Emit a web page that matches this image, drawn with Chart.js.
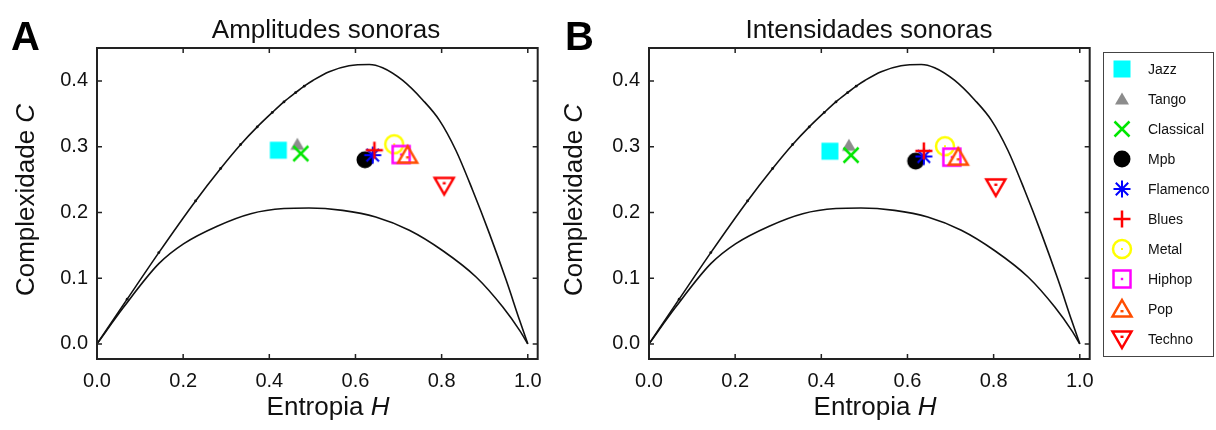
<!DOCTYPE html>
<html>
<head>
<meta charset="utf-8">
<script src="https://cdn.jsdelivr.net/npm/chart.js@4.4.1/dist/chart.umd.min.js"></script>
<style>
body{margin:0;background:#fff;width:1216px;height:430px;position:relative;overflow:hidden;font-family:"Liberation Sans",Arial,sans-serif}
#panelA{position:absolute;left:0;top:0}
#panelB{position:absolute;left:552px;top:0}
#legend{position:absolute;left:1103px;top:52px;width:109px;height:303px;border:1.5px solid #444}
.item{position:absolute;left:0;height:26px;display:flex;align-items:center;font-size:14px;color:#111}
.item canvas{margin-left:5px;margin-right:13px}
</style>
</head>
<body>
<canvas id="panelA" width="552" height="430"></canvas>
<canvas id="panelB" width="552" height="430"></canvas>
<div id="legend"></div>
<script>
const FONT = '"Liberation Sans", Arial, sans-serif';

// ticks
const xTicks = [0, 0.2, 0.4, 0.6, 0.8, 1.0];
const xTickLabels = ['0.0', '0.2', '0.4', '0.6', '0.8', '1.0'];
const yTicks = [0, 0.1, 0.2, 0.3, 0.4];
const yTickLabels = ['0.0', '0.1', '0.2', '0.3', '0.4'];

// max / min complexity curves
const upperH = [0, 0.07, 0.1435, 0.2288, 0.287, 0.3335, 0.372, 0.407, 0.434, 0.461, 0.481, 0.502, 0.539, 0.585, 0.632, 0.663, 0.709, 0.756, 0.795, 0.833, 0.872, 0.911, 0.950, 0.981, 1.0];
const upperC = [0, 0.068, 0.1388, 0.2174, 0.2667, 0.3032, 0.330, 0.352, 0.368, 0.382, 0.392, 0.401, 0.414, 0.423, 0.425, 0.420, 0.401, 0.371, 0.340, 0.2945, 0.2336, 0.1677, 0.0966, 0.0358, 0];
const lowerH = [0, 0.062, 0.1435, 0.2016, 0.279, 0.357, 0.434, 0.492, 0.570, 0.647, 0.725, 0.802, 0.880, 0.942, 0.981, 1.0];
const lowerC = [0, 0.056, 0.122, 0.1525, 0.179, 0.198, 0.2058, 0.2067, 0.203, 0.193, 0.1728, 0.142, 0.1017, 0.056, 0.0205, 0];

// genres
const genres = ['Jazz', 'Tango', 'Classical', 'Mpb', 'Flamenco', 'Blues', 'Metal', 'Hiphop', 'Pop', 'Techno'];
const ampH = [0.421, 0.465, 0.473, 0.622, 0.640, 0.644, 0.690, 0.706, 0.721, 0.806];
const ampC = [0.2945, 0.3036, 0.2895, 0.280, 0.287, 0.2945, 0.3036, 0.288, 0.287, 0.241];
const intH = [0.420, 0.464, 0.469, 0.619, 0.638, 0.638, 0.687, 0.703, 0.718, 0.805];
const intC = [0.293, 0.302, 0.287, 0.278, 0.285, 0.2935, 0.3006, 0.284, 0.284, 0.2387];

const colors = ['#00ffff', '#8c8c8c', '#00e600', '#000000', '#0000ff', '#ff0000', '#ffff00', '#ff00ff', '#ff4d00', '#ff0000'];
const shapes = ['square', 'triangle', 'x', 'circle', 'asterisk', 'plus', 'circleDot', 'squareDot', 'triangleDot', 'triangleDown'];

function marker(shape, color) {
  const c = document.createElement('canvas');
  c.width = 26; c.height = 26;
  const g = c.getContext('2d');
  g.translate(13, 13);
  g.strokeStyle = color;
  g.fillStyle = color;
  g.lineWidth = 2.5;
  if (shape == 'square') {
    g.fillRect(-8.5, -8.5, 17, 17);
  } else if (shape == 'triangle') {
    g.beginPath(); g.moveTo(0, -6.5); g.lineTo(7, 5.5); g.lineTo(-7, 5.5); g.closePath(); g.fill();
  } else if (shape == 'x') {
    g.beginPath(); g.moveTo(-7.5, -7.5); g.lineTo(7.5, 7.5); g.moveTo(7.5, -7.5); g.lineTo(-7.5, 7.5); g.stroke();
  } else if (shape == 'circle') {
    g.beginPath(); g.arc(0, 0, 8.5, 0, Math.PI * 2); g.fill();
  } else if (shape == 'asterisk') {
    g.lineWidth = 2;
    g.beginPath();
    g.moveTo(0, -8.5); g.lineTo(0, 8.5);
    g.moveTo(-8.5, 0); g.lineTo(8.5, 0);
    g.moveTo(-6.2, -6.2); g.lineTo(6.2, 6.2);
    g.moveTo(6.2, -6.2); g.lineTo(-6.2, 6.2);
    g.stroke();
  } else if (shape == 'plus') {
    g.beginPath(); g.moveTo(0, -8.5); g.lineTo(0, 8.5); g.moveTo(-8.5, 0); g.lineTo(8.5, 0); g.stroke();
  } else if (shape == 'circleDot') {
    g.beginPath(); g.arc(0, 0, 9, 0, Math.PI * 2); g.stroke();
    g.fillRect(-1, -1, 2, 2);
  } else if (shape == 'squareDot') {
    g.strokeRect(-8.5, -8.5, 17, 17);
    g.fillRect(-1.2, -1.2, 2.4, 2.4);
  } else if (shape == 'triangleDot') {
    g.beginPath(); g.moveTo(0, -9); g.lineTo(9.5, 7.5); g.lineTo(-9.5, 7.5); g.closePath(); g.stroke();
    g.fillRect(-1.5, 1, 3, 2.4);
  } else if (shape == 'triangleDown') {
    g.beginPath(); g.moveTo(0, 9); g.lineTo(9.5, -7.5); g.lineTo(-9.5, -7.5); g.closePath(); g.stroke();
    g.fillRect(-1.5, -3.4, 3, 2.4);
  }
  return c;
}

function pts(xs, ys) {
  return xs.map((x, i) => ({x: x, y: ys[i]}));
}

function drawMixed(ctx, parts, cx, cy, size) {
  ctx.textBaseline = 'middle';
  ctx.textAlign = 'left';
  let total = 0;
  parts.forEach(p => {
    ctx.font = (p[1] ? 'italic ' : '') + size + 'px ' + FONT;
    total += ctx.measureText(p[0]).width;
  });
  let x = cx - total / 2;
  parts.forEach(p => {
    ctx.font = (p[1] ? 'italic ' : '') + size + 'px ' + FONT;
    ctx.fillText(p[0], x, cy);
    x += ctx.measureText(p[0]).width;
  });
}

const panelDeco = {
  id: 'panelDeco',
  afterDraw(chart, args, opts) {
    const ctx = chart.ctx;
    const a = chart.chartArea;
    const sx = chart.scales.x, sy = chart.scales.y;
    ctx.save();
    // frame + inward ticks
    ctx.strokeStyle = '#222';
    ctx.lineWidth = 2;
    ctx.strokeRect(a.left, a.top, a.right - a.left, a.bottom - a.top);
    ctx.lineWidth = 1.5;
    ctx.beginPath();
    xTicks.forEach(v => {
      const p = sx.getPixelForValue(v);
      ctx.moveTo(p, a.bottom); ctx.lineTo(p, a.bottom - 5);
      ctx.moveTo(p, a.top); ctx.lineTo(p, a.top + 5);
    });
    yTicks.forEach(v => {
      const p = sy.getPixelForValue(v);
      ctx.moveTo(a.left, p); ctx.lineTo(a.left + 5, p);
      ctx.moveTo(a.right, p); ctx.lineTo(a.right - 5, p);
    });
    ctx.stroke();
    // texts
    ctx.fillStyle = '#000';
    ctx.font = 'bold 40px ' + FONT;
    ctx.textAlign = 'left';
    ctx.textBaseline = 'alphabetic';
    ctx.fillText(opts.letter, opts.letterX, 50);
    ctx.fillStyle = '#111';
    ctx.font = '26px ' + FONT;
    ctx.textAlign = 'center';
    ctx.fillText(opts.title, opts.titleX, 38);
    drawMixed(ctx, [['Entropia ', false], ['H', true]], opts.xTitleX, 408, 26);
    ctx.translate(opts.yTitleX, 200);
    ctx.rotate(-Math.PI / 2);
    drawMixed(ctx, [['Complexidade ', false], ['C', true]], 0, 0, 26);
    ctx.restore();
  }
};

function makeChart(id, hs, cs, deco) {
  const datasets = [
    {data: pts(upperH, upperC), showLine: true, borderColor: '#111', borderWidth: 1.6,
     cubicInterpolationMode: 'monotone', pointRadius: ctx => (ctx.raw && ctx.raw.x > 0 && ctx.raw.x < 0.49 ? 1.4 : 0),
     pointBackgroundColor: '#111', pointBorderWidth: 0, order: 20},
    {data: pts(lowerH, lowerC), showLine: true, borderColor: '#111', borderWidth: 1.6,
     cubicInterpolationMode: 'monotone', pointRadius: 0, order: 20}
  ];
  genres.forEach((g, i) => {
    datasets.push({
      label: g,
      data: [{x: hs[i], y: cs[i]}],
      pointStyle: marker(shapes[i], colors[i]),
      pointRadius: 10,
      order: 10 - i
    });
  });
  return new Chart(document.getElementById(id), {
    type: 'scatter',
    data: {datasets: datasets},
    plugins: [panelDeco],
    options: {
      responsive: false,
      animation: false,
      layout: {padding: {top: 48, right: 14, left: 0, bottom: 0}},
      plugins: {legend: {display: false}, tooltip: {enabled: false}, panelDeco: deco},
      scales: {
        x: {
          type: 'linear', min: 0, max: 1.023,
          afterBuildTicks: s => { s.ticks = xTicks.map(v => ({value: v})); },
          afterFit: s => { s.height = 71; },
          ticks: {callback: (v, i) => xTickLabels[i], font: {size: 20, family: FONT}, color: '#111', padding: 10},
          grid: {display: false, drawTicks: false},
          border: {display: false}
        },
        y: {
          type: 'linear', min: -0.023, max: 0.45,
          afterBuildTicks: s => { s.ticks = yTicks.map(v => ({value: v})); },
          afterFit: s => { s.width = 97; },
          ticks: {callback: (v, i) => yTickLabels[i], font: {size: 20, family: FONT}, color: '#111', padding: 9},
          grid: {display: false, drawTicks: false},
          border: {display: false}
        }
      }
    }
  });
}

makeChart('panelA', ampH, ampC, {letter: 'A', letterX: 11, title: 'Amplitudes sonoras', titleX: 326, xTitleX: 328, yTitleX: 27});
makeChart('panelB', intH, intC, {letter: 'B', letterX: 13, title: 'Intensidades sonoras', titleX: 317, xTitleX: 323, yTitleX: 23});

// legend
const legend = document.getElementById('legend');
genres.forEach((g, i) => {
  const item = document.createElement('div');
  item.className = 'item';
  item.style.top = (2.5 + i * 30) + 'px';
  item.appendChild(marker(shapes[i], colors[i]));
  const t = document.createElement('span');
  t.textContent = g;
  item.appendChild(t);
  legend.appendChild(item);
});
</script>
</body>
</html>
